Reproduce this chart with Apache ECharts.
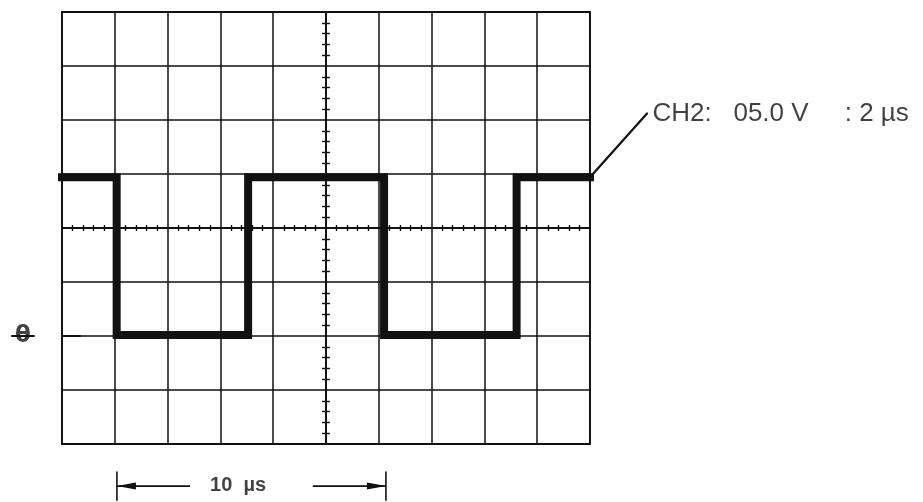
<!DOCTYPE html>
<html>
<head>
<meta charset="utf-8">
<script src="https://cdn.jsdelivr.net/npm/echarts@6/dist/echarts.min.js"></script>
<style>
html, body { margin: 0; padding: 0; background: #fff; }
#scope { width: 923px; height: 502px; }
</style>
</head>
<body>
<div id="scope"></div>
<script>
// CH2 trace: time in µs (2 µs/div), volts (5 V/div), ground at -2 div
var timeUs = [0, 2.07, 2.07, 7.05, 7.05, 12.2, 12.2, 17.22, 17.22, 20];
var ch2Volts = [14.7, 14.7, 0.1, 0.1, 14.7, 14.7, 0.1, 0.1, 14.7, 14.7];

// leader from the trace end up to the channel text
var channelLabel = 'CH2:   05.0 V     : 2 µs';
var leaderUs = [20, 22.16];
var leaderVolts = [14.7, 20.6];

// "10 µs" span marker under the screen
var spanLabel = '10  µs';
var spanArrowUs = [2.08, 4.85, 9.5, 12.27];
var spanVolts = -13.9;
var spanBarVolts = [-12.6, -15.2];
var spanTextAt = [6.67, -13.8];

// ground reference mark on the left
var groundLabel = 'θ';
var groundBarUs = [-1.9, -1.06];
var groundTickUs = [0, 0.68];
var groundVolts = 0;

var ink = '#111';

function zip(xs, ys) {
    return xs.map(function (x, i) { return [x, ys[i]]; });
}

var rect = { left: 62, top: 12, width: 528, height: 432, outerBoundsMode: 'none' };

function tickAxis(idx, range, step, inside, len) {
    return {
        gridIndex: idx, type: 'value', min: -range, max: range, interval: step,
        axisLine: { show: true, onZero: true, lineStyle: { color: ink, width: 1.5 } },
        axisTick: { show: false, inside: inside },
        axisLabel: { show: false },
        splitLine: { show: false },
        minorTick: { show: true, splitNumber: 5, length: len, lineStyle: { color: ink, width: 1.4 } }
    };
}

// straight segments drawn through the axes (also outside the screen area)
function segments(name, rows, width) {
    return {
        name: name,
        type: 'custom',
        clip: false,
        encode: { x: [0, 2], y: [1, 3] },
        data: rows,
        renderItem: function (params, api) {
            var a = api.coord([api.value(0), api.value(1)]);
            var b = api.coord([api.value(2), api.value(3)]);
            return {
                type: 'line',
                shape: { x1: a[0], y1: a[1], x2: b[0], y2: b[1] },
                style: { stroke: ink, lineWidth: width, lineCap: 'round' }
            };
        }
    };
}

var chart = echarts.init(document.getElementById('scope'));
var option = {
    animation: false,
    backgroundColor: '#fff',
    grid: [
        Object.assign({ show: true, borderColor: ink, borderWidth: 1.8 }, rect),
        Object.assign({}, rect),
        Object.assign({}, rect)
    ],
    xAxis: [
        {
            gridIndex: 0, type: 'value', min: 0, max: 20, interval: 2,
            axisLine: { show: false }, axisTick: { show: false }, axisLabel: { show: false },
            splitLine: { show: true, lineStyle: { color: ink, width: 1.5 } }
        },
        tickAxis(1, 10, 2, false, 3),
        tickAxis(2, 10, 2, true, 3)
    ],
    yAxis: [
        {
            gridIndex: 0, type: 'value', min: -10, max: 30, interval: 5,
            axisLine: { show: false }, axisTick: { show: false }, axisLabel: { show: false },
            splitLine: { show: true, lineStyle: { color: ink, width: 1.5 } }
        },
        tickAxis(1, 20, 5, false, 4),
        tickAxis(2, 20, 5, true, 4)
    ],
    series: [
        {
            name: 'CH2',
            type: 'line',
            data: zip(timeUs, ch2Volts),
            symbol: 'none',
            z: 5,
            lineStyle: { color: ink, width: 8, join: 'miter', cap: 'square' }
        },
        segments('leader', [[leaderUs[0], leaderVolts[0], leaderUs[1], leaderVolts[1]]], 2.2),
        segments('ground mark', [
            [groundBarUs[0], groundVolts, groundBarUs[1], groundVolts],
            [groundTickUs[0], groundVolts, groundTickUs[1], groundVolts]
        ], 1.8),
        segments('span bars', [
            [spanArrowUs[0], spanBarVolts[0], spanArrowUs[0], spanBarVolts[1]],
            [spanArrowUs[3], spanBarVolts[0], spanArrowUs[3], spanBarVolts[1]]
        ], 1.6),
        {
            name: 'span arrows',
            type: 'line',
            clip: false,
            symbol: 'none',
            showSymbol: true,
            lineStyle: { color: ink, width: 1.6 },
            itemStyle: { color: ink },
            data: [
                { value: [spanArrowUs[0], spanVolts], symbol: 'triangle', symbolSize: [7, 19], symbolRotate: 90, symbolOffset: [9.5, 0] },
                [spanArrowUs[1], spanVolts],
                '-',
                [spanArrowUs[2], spanVolts],
                { value: [spanArrowUs[3], spanVolts], symbol: 'triangle', symbolSize: [7, 19], symbolRotate: -90, symbolOffset: [-9.5, 0] }
            ]
        },
        {
            name: 'texts',
            type: 'scatter',
            clip: false,
            symbolSize: 1,
            itemStyle: { color: 'rgba(0,0,0,0)' },
            label: { show: true, position: 'inside', color: ink },
            data: [
                {
                    value: spanTextAt,
                    label: { formatter: spanLabel, fontSize: 20, fontWeight: 'bold', fontFamily: 'Liberation Sans Narrow, Liberation Sans' }
                },
                {
                    value: [(groundBarUs[0] + groundBarUs[1]) / 2, groundVolts],
                    label: { formatter: groundLabel, fontSize: 23, fontWeight: 'bold', fontFamily: 'DejaVu Sans' }
                },
                {
                    value: [leaderUs[1], leaderVolts[1]],
                    label: { formatter: channelLabel, position: 'right', distance: 5, fontSize: 26, fontFamily: 'Liberation Sans' }
                }
            ]
        }
    ]
};
chart.setOption(option);
</script>
</body>
</html>
